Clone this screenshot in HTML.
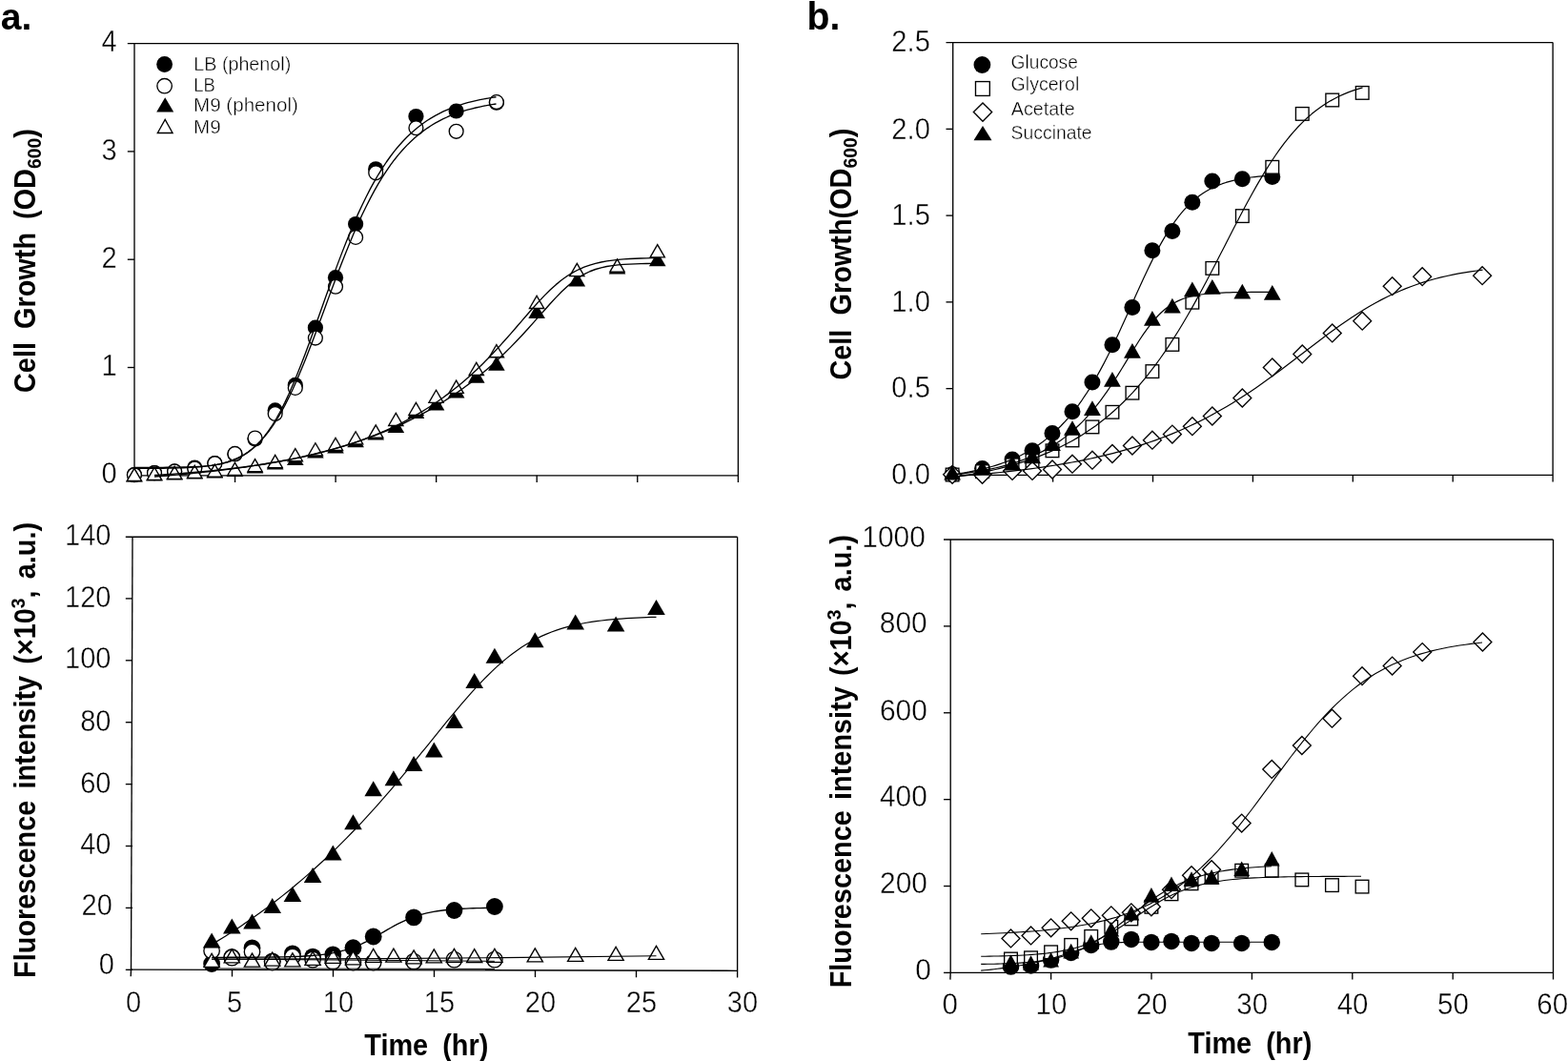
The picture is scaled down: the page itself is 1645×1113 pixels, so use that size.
<!DOCTYPE html>
<html lang="en">
<head>
<meta charset="utf-8">
<title>Cell growth and fluorescence intensity</title>
<style>
html,body{margin:0;padding:0;background:#fff;}
body{width:1645px;height:1113px;overflow:hidden;}
svg{display:block;}
text{font-family:"Liberation Sans", sans-serif;fill:#000;}
</style>
</head>
<body>
<svg width="1645" height="1113" viewBox="0 0 1645 1113">
<rect width="1645" height="1113" fill="#fff"/>
<line x1="141" y1="45.6" x2="141" y2="498.8" stroke="#000" stroke-width="1.35"/>
<line x1="774.4" y1="45.6" x2="774.4" y2="506" stroke="#000" stroke-width="1.35"/>
<line x1="133.8" y1="45.6" x2="774.4" y2="45.6" stroke="#000" stroke-width="1.35"/>
<line x1="141" y1="498.8" x2="774.4" y2="498.8" stroke="#000" stroke-width="1.35"/>
<line x1="141" y1="498.8" x2="140.7" y2="506" stroke="#000" stroke-width="1.35"/>
<line x1="246.55" y1="498.8" x2="246.55" y2="506" stroke="#000" stroke-width="1.35"/>
<line x1="352.1" y1="498.8" x2="352.1" y2="506" stroke="#000" stroke-width="1.35"/>
<line x1="457.65" y1="498.8" x2="457.65" y2="506" stroke="#000" stroke-width="1.35"/>
<line x1="563.2" y1="498.8" x2="563.2" y2="506" stroke="#000" stroke-width="1.35"/>
<line x1="668.75" y1="498.8" x2="668.75" y2="506" stroke="#000" stroke-width="1.35"/>
<line x1="133.8" y1="498.8" x2="141" y2="498.8" stroke="#000" stroke-width="1.35"/>
<line x1="133.8" y1="385.5" x2="141" y2="385.5" stroke="#000" stroke-width="1.35"/>
<line x1="133.8" y1="272.2" x2="141" y2="272.2" stroke="#000" stroke-width="1.35"/>
<line x1="133.8" y1="158.9" x2="141" y2="158.9" stroke="#000" stroke-width="1.35"/>
<text transform="translate(122.61 507.16) scale(0.945 1)" font-size="30.7" text-anchor="end" stroke="#fff" stroke-width="0.4">0</text>
<text transform="translate(122.61 393.98) scale(0.945 1)" font-size="30.7" text-anchor="end" stroke="#fff" stroke-width="0.4">1</text>
<text transform="translate(122.61 280.8) scale(0.945 1)" font-size="30.7" text-anchor="end" stroke="#fff" stroke-width="0.4">2</text>
<text transform="translate(122.61 167.62) scale(0.945 1)" font-size="30.7" text-anchor="end" stroke="#fff" stroke-width="0.4">3</text>
<text transform="translate(122.61 54.44) scale(0.945 1)" font-size="30.7" text-anchor="end" stroke="#fff" stroke-width="0.4">4</text>
<circle cx="140.9" cy="498" r="8.1" fill="#000"/>
<circle cx="162.01" cy="496" r="8.1" fill="#000"/>
<circle cx="183.12" cy="494.4" r="8.1" fill="#000"/>
<circle cx="204.23" cy="490.5" r="8.1" fill="#000"/>
<circle cx="225.34" cy="486" r="8.1" fill="#000"/>
<circle cx="246.45" cy="476.5" r="8.1" fill="#000"/>
<circle cx="267.56" cy="460.5" r="8.1" fill="#000"/>
<circle cx="288.67" cy="430.4" r="8.1" fill="#000"/>
<circle cx="309.78" cy="403.9" r="8.1" fill="#000"/>
<circle cx="330.89" cy="343.7" r="8.1" fill="#000"/>
<circle cx="352" cy="291.2" r="8.1" fill="#000"/>
<circle cx="373.11" cy="235.1" r="8.1" fill="#000"/>
<circle cx="394.22" cy="177.3" r="8.1" fill="#000"/>
<circle cx="436.44" cy="122.1" r="8.1" fill="#000"/>
<circle cx="478.66" cy="116.5" r="8.1" fill="#000"/>
<circle cx="520.88" cy="107.7" r="8.1" fill="#000"/>
<circle cx="140.9" cy="498.2" r="7.42" fill="#fff" stroke="#000" stroke-width="1.35"/>
<circle cx="162.01" cy="496.2" r="7.42" fill="#fff" stroke="#000" stroke-width="1.35"/>
<circle cx="183.12" cy="494.6" r="7.42" fill="#fff" stroke="#000" stroke-width="1.35"/>
<circle cx="204.23" cy="491.6" r="7.42" fill="#fff" stroke="#000" stroke-width="1.35"/>
<circle cx="225.34" cy="486.2" r="7.42" fill="#fff" stroke="#000" stroke-width="1.35"/>
<circle cx="246.45" cy="475.9" r="7.42" fill="#fff" stroke="#000" stroke-width="1.35"/>
<circle cx="267.56" cy="459.5" r="7.42" fill="#fff" stroke="#000" stroke-width="1.35"/>
<circle cx="288.67" cy="434" r="7.42" fill="#fff" stroke="#000" stroke-width="1.35"/>
<circle cx="309.78" cy="406.9" r="7.42" fill="#fff" stroke="#000" stroke-width="1.35"/>
<circle cx="330.89" cy="354.6" r="7.42" fill="#fff" stroke="#000" stroke-width="1.35"/>
<circle cx="352" cy="300.7" r="7.42" fill="#fff" stroke="#000" stroke-width="1.35"/>
<circle cx="373.11" cy="248.9" r="7.42" fill="#fff" stroke="#000" stroke-width="1.35"/>
<circle cx="394.22" cy="181.3" r="7.42" fill="#fff" stroke="#000" stroke-width="1.35"/>
<circle cx="436.44" cy="134.2" r="7.42" fill="#fff" stroke="#000" stroke-width="1.35"/>
<circle cx="478.66" cy="137.8" r="7.42" fill="#fff" stroke="#000" stroke-width="1.35"/>
<circle cx="520.88" cy="107.1" r="7.42" fill="#fff" stroke="#000" stroke-width="1.35"/>
<polygon points="140.9,490.4 132.1,505.6 149.7,505.6" fill="#000"/>
<polygon points="162.01,489.4 153.21,504.6 170.81,504.6" fill="#000"/>
<polygon points="183.12,488.4 174.32,503.6 191.92,503.6" fill="#000"/>
<polygon points="204.23,487.4 195.43,502.6 213.03,502.6" fill="#000"/>
<polygon points="225.34,486.4 216.54,501.6 234.14,501.6" fill="#000"/>
<polygon points="246.45,484.9 237.65,500.1 255.25,500.1" fill="#000"/>
<polygon points="267.56,481.4 258.76,496.6 276.36,496.6" fill="#000"/>
<polygon points="288.67,477.4 279.87,492.6 297.47,492.6" fill="#000"/>
<polygon points="309.78,472.9 300.98,488.1 318.58,488.1" fill="#000"/>
<polygon points="330.89,465.4 322.09,480.6 339.69,480.6" fill="#000"/>
<polygon points="352,460.4 343.2,475.6 360.8,475.6" fill="#000"/>
<polygon points="373.11,454.1 364.31,469.3 381.91,469.3" fill="#000"/>
<polygon points="394.22,446.4 385.42,461.6 403.02,461.6" fill="#000"/>
<polygon points="415.33,438.8 406.53,454 424.13,454" fill="#000"/>
<polygon points="436.44,423.8 427.64,439 445.24,439" fill="#000"/>
<polygon points="457.55,415.2 448.75,430.4 466.35,430.4" fill="#000"/>
<polygon points="478.66,402.2 469.86,417.4 487.46,417.4" fill="#000"/>
<polygon points="499.77,386.5 490.97,401.7 508.57,401.7" fill="#000"/>
<polygon points="520.88,373.5 512.08,388.7 529.68,388.7" fill="#000"/>
<polygon points="563.1,318.7 554.3,333.9 571.9,333.9" fill="#000"/>
<polygon points="605.32,285.2 596.52,300.4 614.12,300.4" fill="#000"/>
<polygon points="647.54,272.2 638.74,287.4 656.34,287.4" fill="#000"/>
<polygon points="689.76,264.1 680.96,279.3 698.56,279.3" fill="#000"/>
<polygon points="140.9,490 132.1,505.2 149.7,505.2" fill="#000"/>
<polygon points="140.9,492.69 134.44,503.85 147.36,503.85" fill="#fff"/>
<polygon points="162.01,488.9 153.21,504.1 170.81,504.1" fill="#000"/>
<polygon points="162.01,491.59 155.55,502.75 168.47,502.75" fill="#fff"/>
<polygon points="183.12,487.9 174.32,503.1 191.92,503.1" fill="#000"/>
<polygon points="183.12,490.59 176.66,501.75 189.58,501.75" fill="#fff"/>
<polygon points="204.23,486.9 195.43,502.1 213.03,502.1" fill="#000"/>
<polygon points="204.23,489.59 197.77,500.75 210.69,500.75" fill="#fff"/>
<polygon points="225.34,485.7 216.54,500.9 234.14,500.9" fill="#000"/>
<polygon points="225.34,488.39 218.88,499.55 231.8,499.55" fill="#fff"/>
<polygon points="246.45,484 237.65,499.2 255.25,499.2" fill="#000"/>
<polygon points="246.45,486.69 239.99,497.85 252.91,497.85" fill="#fff"/>
<polygon points="267.56,480.2 258.76,495.4 276.36,495.4" fill="#000"/>
<polygon points="267.56,482.89 261.1,494.05 274.02,494.05" fill="#fff"/>
<polygon points="288.67,476.1 279.87,491.3 297.47,491.3" fill="#000"/>
<polygon points="288.67,478.79 282.21,489.95 295.13,489.95" fill="#fff"/>
<polygon points="309.78,469.2 300.98,484.4 318.58,484.4" fill="#000"/>
<polygon points="309.78,471.89 303.32,483.05 316.24,483.05" fill="#fff"/>
<polygon points="330.89,463.4 322.09,478.6 339.69,478.6" fill="#000"/>
<polygon points="330.89,466.09 324.43,477.25 337.35,477.25" fill="#fff"/>
<polygon points="352,458 343.2,473.2 360.8,473.2" fill="#000"/>
<polygon points="352,460.69 345.54,471.85 358.46,471.85" fill="#fff"/>
<polygon points="373.11,451.4 364.31,466.6 381.91,466.6" fill="#000"/>
<polygon points="373.11,454.09 366.65,465.25 379.57,465.25" fill="#fff"/>
<polygon points="394.22,444.6 385.42,459.8 403.02,459.8" fill="#000"/>
<polygon points="394.22,447.29 387.76,458.45 400.68,458.45" fill="#fff"/>
<polygon points="415.33,432 406.53,447.2 424.13,447.2" fill="#000"/>
<polygon points="415.33,434.69 408.87,445.85 421.79,445.85" fill="#fff"/>
<polygon points="436.44,421 427.64,436.2 445.24,436.2" fill="#000"/>
<polygon points="436.44,423.69 429.98,434.85 442.9,434.85" fill="#fff"/>
<polygon points="457.55,407.9 448.75,423.1 466.35,423.1" fill="#000"/>
<polygon points="457.55,410.59 451.09,421.75 464.01,421.75" fill="#fff"/>
<polygon points="478.66,397.8 469.86,413 487.46,413" fill="#000"/>
<polygon points="478.66,400.49 472.2,411.65 485.12,411.65" fill="#fff"/>
<polygon points="499.77,379 490.97,394.2 508.57,394.2" fill="#000"/>
<polygon points="499.77,381.69 493.31,392.85 506.23,392.85" fill="#fff"/>
<polygon points="520.88,360.2 512.08,375.4 529.68,375.4" fill="#000"/>
<polygon points="520.88,362.89 514.42,374.05 527.34,374.05" fill="#fff"/>
<polygon points="563.1,309 554.3,324.2 571.9,324.2" fill="#000"/>
<polygon points="563.1,311.69 556.64,322.85 569.56,322.85" fill="#fff"/>
<polygon points="605.32,275.1 596.52,290.3 614.12,290.3" fill="#000"/>
<polygon points="605.32,277.79 598.86,288.95 611.78,288.95" fill="#fff"/>
<polygon points="647.54,270.6 638.74,285.8 656.34,285.8" fill="#000"/>
<polygon points="647.54,273.29 641.08,284.45 654,284.45" fill="#fff"/>
<polygon points="689.76,255.3 680.96,270.5 698.56,270.5" fill="#000"/>
<polygon points="689.76,257.99 683.3,269.15 696.22,269.15" fill="#fff"/>
<path d="M141,490.4 L145.26,490.39 L149.53,490.39 L153.79,490.38 L158.06,490.37 L162.32,490.36 L166.58,490.34 L170.85,490.32 L175.11,490.29 L179.38,490.25 L183.64,490.2 L187.9,490.13 L192.17,490.04 L196.43,489.93 L200.7,489.78 L204.96,489.6 L209.22,489.36 L213.49,489.05 L217.75,488.67 L222.02,488.18 L226.28,487.58 L230.54,486.82 L234.81,485.89 L239.07,484.75 L243.34,483.35 L247.6,481.67 L251.87,479.64 L256.13,477.23 L260.39,474.39 L264.66,471.06 L268.92,467.19 L273.19,462.75 L277.45,457.69 L281.71,451.98 L285.98,445.6 L290.24,438.52 L294.51,430.77 L298.77,422.34 L303.03,413.26 L307.3,403.57 L311.56,393.33 L315.83,382.6 L320.09,371.45 L324.35,359.96 L328.62,348.22 L332.88,336.3 L337.15,324.3 L341.41,312.31 L345.67,300.4 L349.94,288.64 L354.2,277.11 L358.47,265.87 L362.73,254.96 L366.99,244.43 L371.26,234.32 L375.52,224.64 L379.79,215.42 L384.05,206.68 L388.31,198.4 L392.58,190.61 L396.84,183.28 L401.11,176.41 L405.37,170 L409.63,164.01 L413.9,158.44 L418.16,153.27 L422.43,148.48 L426.69,144.04 L430.96,139.95 L435.22,136.17 L439.48,132.68 L443.75,129.48 L448.01,126.53 L452.28,123.82 L456.54,121.34 L460.8,119.06 L465.07,116.98 L469.33,115.07 L473.6,113.32 L477.86,111.72 L482.12,110.27 L486.39,108.93 L490.65,107.71 L494.92,106.6 L499.18,105.59 L503.44,104.67 L507.71,103.82 L511.97,103.05 L516.24,102.35 L520.5,101.72" fill="none" stroke="#000" stroke-width="1.35" stroke-linejoin="round"/>
<path d="M141,491.42 L145.26,491.41 L149.53,491.4 L153.79,491.38 L158.06,491.36 L162.32,491.33 L166.58,491.29 L170.85,491.24 L175.11,491.18 L179.38,491.11 L183.64,491.02 L187.9,490.91 L192.17,490.77 L196.43,490.59 L200.7,490.38 L204.96,490.11 L209.22,489.79 L213.49,489.39 L217.75,488.9 L222.02,488.31 L226.28,487.6 L230.54,486.73 L234.81,485.7 L239.07,484.46 L243.34,482.98 L247.6,481.24 L251.87,479.18 L256.13,476.78 L260.39,473.99 L264.66,470.77 L268.92,467.08 L273.19,462.88 L277.45,458.13 L281.71,452.8 L285.98,446.86 L290.24,440.31 L294.51,433.13 L298.77,425.33 L303.03,416.92 L307.3,407.93 L311.56,398.39 L315.83,388.36 L320.09,377.88 L324.35,367.04 L328.62,355.89 L332.88,344.53 L337.15,333.02 L341.41,321.44 L345.67,309.88 L349.94,298.41 L354.2,287.1 L358.47,276.01 L362.73,265.2 L366.99,254.71 L371.26,244.59 L375.52,234.88 L379.79,225.59 L384.05,216.74 L388.31,208.34 L392.58,200.41 L396.84,192.93 L401.11,185.91 L405.37,179.33 L409.63,173.19 L413.9,167.47 L418.16,162.15 L422.43,157.21 L426.69,152.64 L430.96,148.41 L435.22,144.51 L439.48,140.91 L443.75,137.6 L448.01,134.56 L452.28,131.77 L456.54,129.2 L460.8,126.86 L465.07,124.7 L469.33,122.74 L473.6,120.94 L477.86,119.29 L482.12,117.79 L486.39,116.42 L490.65,115.17 L494.92,114.04 L499.18,113 L503.44,112.05 L507.71,111.19 L511.97,110.4 L516.24,109.69 L520.5,109.04" fill="none" stroke="#000" stroke-width="1.35" stroke-linejoin="round"/>
<path d="M162,498.54 L167.93,498.16 L173.87,497.77 L179.8,497.36 L185.73,496.93 L191.66,496.48 L197.6,496.01 L203.53,495.51 L209.46,494.99 L215.39,494.44 L221.33,493.86 L227.26,493.26 L233.19,492.63 L239.12,491.96 L245.06,491.26 L250.99,490.53 L256.92,489.76 L262.85,488.95 L268.79,488.1 L274.72,487.21 L280.65,486.28 L286.58,485.29 L292.52,484.26 L298.45,483.18 L304.38,482.05 L310.31,480.86 L316.25,479.61 L322.18,478.29 L328.11,476.92 L334.04,475.47 L339.98,473.95 L345.91,472.36 L351.84,470.68 L357.78,468.93 L363.71,467.08 L369.64,465.15 L375.57,463.12 L381.51,460.98 L387.44,458.74 L393.37,456.4 L399.3,453.93 L405.24,451.34 L411.17,448.62 L417.1,445.77 L423.03,442.78 L428.97,439.64 L434.9,436.34 L440.83,432.88 L446.76,429.25 L452.7,425.45 L458.63,421.45 L464.56,417.27 L470.49,412.88 L476.43,408.28 L482.36,403.47 L488.29,398.43 L494.22,393.16 L500.16,387.66 L506.09,381.93 L512.02,375.97 L517.96,369.79 L523.89,363.4 L529.82,356.82 L535.75,350.08 L541.69,343.24 L547.62,336.35 L553.55,329.47 L559.48,322.7 L565.42,316.14 L571.35,309.87 L577.28,304.01 L583.21,298.63 L589.15,293.79 L595.08,289.54 L601.01,285.87 L606.94,282.77 L612.88,280.2 L618.81,278.09 L624.74,276.38 L630.67,275.02 L636.61,273.94 L642.54,273.1 L648.47,272.44 L654.4,271.92 L660.34,271.52 L666.27,271.22 L672.2,270.98 L678.13,270.8 L684.07,270.66 L690,270.55" fill="none" stroke="#000" stroke-width="1.35" stroke-linejoin="round"/>
<path d="M162,499.98 L167.93,499.53 L173.87,499.06 L179.8,498.57 L185.73,498.06 L191.66,497.53 L197.6,496.98 L203.53,496.4 L209.46,495.8 L215.39,495.18 L221.33,494.52 L227.26,493.84 L233.19,493.13 L239.12,492.39 L245.06,491.62 L250.99,490.81 L256.92,489.97 L262.85,489.09 L268.79,488.18 L274.72,487.23 L280.65,486.23 L286.58,485.2 L292.52,484.12 L298.45,482.99 L304.38,481.81 L310.31,480.59 L316.25,479.31 L322.18,477.98 L328.11,476.59 L334.04,475.14 L339.98,473.63 L345.91,472.06 L351.84,470.41 L357.78,468.7 L363.71,466.92 L369.64,465.05 L375.57,463.11 L381.51,461.09 L387.44,458.98 L393.37,456.77 L399.3,454.48 L405.24,452.09 L411.17,449.59 L417.1,446.99 L423.03,444.27 L428.97,441.44 L434.9,438.49 L440.83,435.41 L446.76,432.2 L452.7,428.86 L458.63,425.37 L464.56,421.73 L470.49,417.94 L476.43,413.99 L482.36,409.86 L488.29,405.57 L494.22,401.09 L500.16,396.42 L506.09,391.56 L512.02,386.49 L517.96,381.22 L523.89,375.74 L529.82,370.05 L535.75,364.14 L541.69,358.02 L547.62,351.72 L553.55,345.24 L559.48,338.62 L565.42,331.91 L571.35,325.2 L577.28,318.57 L583.21,312.14 L589.15,306.07 L595.08,300.47 L601.01,295.49 L606.94,291.2 L612.88,287.62 L618.81,284.75 L624.74,282.5 L630.67,280.79 L636.61,279.51 L642.54,278.57 L648.47,277.89 L654.4,277.4 L660.34,277.05 L666.27,276.8 L672.2,276.63 L678.13,276.5 L684.07,276.42 L690,276.36" fill="none" stroke="#000" stroke-width="1.35" stroke-linejoin="round"/>
<circle cx="172.6" cy="67.5" r="8.4" fill="#000"/>
<circle cx="172.6" cy="90.2" r="7.73" fill="#fff" stroke="#000" stroke-width="1.35"/>
<polygon points="173.2,102.2 164.2,117.4 182.2,117.4" fill="#000"/>
<polygon points="173.2,124 164.2,140.2 182.2,140.2" fill="#000"/>
<polygon points="173.2,126.78 166.49,138.85 179.91,138.85" fill="#fff"/>
<text transform="translate(203.3 73.5) scale(0.957 1)" font-size="20.6" stroke="#fff" stroke-width="0.4">LB (phenol)</text>
<text transform="translate(203.3 95.7) scale(0.9 1)" font-size="20.6" stroke="#fff" stroke-width="0.4">LB</text>
<text transform="translate(203 117.3)" font-size="20.6" stroke="#fff" stroke-width="0.4">M9 (phenol)</text>
<text transform="translate(203 139.9)" font-size="20.6" stroke="#fff" stroke-width="0.4">M9</text>
<text transform="translate(0.8 30.9) scale(1.02 1)" font-size="38.3" font-weight="bold">a.</text>
<text transform="translate(846.5 30.9) scale(0.957 1)" font-size="41" font-weight="bold">b.</text>
<text transform="translate(36.7 412) rotate(-90) scale(0.92 1)" font-size="31.4" font-weight="bold" word-spacing="6.52">Cell Growth (OD<tspan font-size="21" dy="6">600</tspan><tspan dy="-6">)</tspan></text>
<text transform="translate(36.7 1025.9) rotate(-90) scale(0.92 1)" font-size="31.4" font-weight="bold" word-spacing="4.46">Fluorescence intensity (×10<tspan font-size="21" dy="-11">3</tspan><tspan dy="11">, a.u.)</tspan></text>
<text transform="translate(447.3 1106.9) scale(0.92 1)" font-size="31.4" text-anchor="middle" font-weight="bold" word-spacing="7.61">Time (hr)</text>
<line x1="139" y1="563.2" x2="137.5" y2="1017.1" stroke="#000" stroke-width="1.35"/>
<line x1="773.6" y1="563.2" x2="773.6" y2="1025.5" stroke="#000" stroke-width="1.35"/>
<line x1="131.8" y1="563.2" x2="773.6" y2="563.2" stroke="#000" stroke-width="1.35"/>
<line x1="137.5" y1="1017.1" x2="773.6" y2="1018.3" stroke="#000" stroke-width="1.35"/>
<line x1="137.5" y1="1017.1" x2="137.2" y2="1024.3" stroke="#000" stroke-width="1.35"/>
<line x1="243.5" y1="1017.3" x2="243.5" y2="1024.5" stroke="#000" stroke-width="1.35"/>
<line x1="349.5" y1="1017.5" x2="349.5" y2="1024.7" stroke="#000" stroke-width="1.35"/>
<line x1="455.5" y1="1017.7" x2="455.5" y2="1024.9" stroke="#000" stroke-width="1.35"/>
<line x1="561.5" y1="1017.9" x2="561.5" y2="1025.1" stroke="#000" stroke-width="1.35"/>
<line x1="667.5" y1="1018.1" x2="667.5" y2="1025.3" stroke="#000" stroke-width="1.35"/>
<line x1="131.8" y1="1017.3" x2="139" y2="1017.3" stroke="#000" stroke-width="1.35"/>
<line x1="131.8" y1="952.4" x2="139" y2="952.4" stroke="#000" stroke-width="1.35"/>
<line x1="131.8" y1="887.5" x2="139" y2="887.5" stroke="#000" stroke-width="1.35"/>
<line x1="131.8" y1="822.6" x2="139" y2="822.6" stroke="#000" stroke-width="1.35"/>
<line x1="131.8" y1="757.7" x2="139" y2="757.7" stroke="#000" stroke-width="1.35"/>
<line x1="131.8" y1="692.8" x2="139" y2="692.8" stroke="#000" stroke-width="1.35"/>
<line x1="131.8" y1="627.9" x2="139" y2="627.9" stroke="#000" stroke-width="1.35"/>
<text transform="translate(119.81 1022.46) scale(0.945 1)" font-size="30.7" text-anchor="end" stroke="#fff" stroke-width="0.4">0</text>
<text transform="translate(117.81 960.26) scale(0.945 1)" font-size="30.7" text-anchor="end" stroke="#fff" stroke-width="0.4">20</text>
<text transform="translate(116.41 896.06) scale(0.945 1)" font-size="30.7" text-anchor="end" stroke="#fff" stroke-width="0.4">40</text>
<text transform="translate(116.41 831.56) scale(0.945 1)" font-size="30.7" text-anchor="end" stroke="#fff" stroke-width="0.4">60</text>
<text transform="translate(116.41 766.56) scale(0.945 1)" font-size="30.7" text-anchor="end" stroke="#fff" stroke-width="0.4">80</text>
<text transform="translate(116.41 701.26) scale(0.945 1)" font-size="30.7" text-anchor="end" stroke="#fff" stroke-width="0.4">100</text>
<text transform="translate(116.41 636.56) scale(0.945 1)" font-size="30.7" text-anchor="end" stroke="#fff" stroke-width="0.4">120</text>
<text transform="translate(116.41 572.36) scale(0.945 1)" font-size="30.7" text-anchor="end" stroke="#fff" stroke-width="0.4">140</text>
<text transform="translate(140.1 1061.8) scale(0.945 1)" font-size="30.7" text-anchor="middle" stroke="#fff" stroke-width="0.4">0</text>
<text transform="translate(246.1 1061.8) scale(0.945 1)" font-size="30.7" text-anchor="middle" stroke="#fff" stroke-width="0.4">5</text>
<text transform="translate(355 1061.8) scale(0.945 1)" font-size="30.7" text-anchor="middle" stroke="#fff" stroke-width="0.4">10</text>
<text transform="translate(461 1061.8) scale(0.945 1)" font-size="30.7" text-anchor="middle" stroke="#fff" stroke-width="0.4">15</text>
<text transform="translate(567 1061.8) scale(0.945 1)" font-size="30.7" text-anchor="middle" stroke="#fff" stroke-width="0.4">20</text>
<text transform="translate(673 1061.8) scale(0.945 1)" font-size="30.7" text-anchor="middle" stroke="#fff" stroke-width="0.4">25</text>
<text transform="translate(779 1061.8) scale(0.945 1)" font-size="30.7" text-anchor="middle" stroke="#fff" stroke-width="0.4">30</text>
<circle cx="222.1" cy="1011" r="8.9" fill="#000"/>
<circle cx="243.3" cy="1004" r="8.9" fill="#000"/>
<circle cx="264.5" cy="994.4" r="8.9" fill="#000"/>
<circle cx="285.7" cy="1008.3" r="8.9" fill="#000"/>
<circle cx="306.9" cy="1000.4" r="8.9" fill="#000"/>
<circle cx="328.1" cy="1003.6" r="8.9" fill="#000"/>
<circle cx="349.3" cy="1001.4" r="8.9" fill="#000"/>
<circle cx="370.5" cy="994.2" r="8.9" fill="#000"/>
<circle cx="391.7" cy="982.5" r="8.9" fill="#000"/>
<circle cx="434.1" cy="962.4" r="8.9" fill="#000"/>
<circle cx="476.5" cy="955" r="8.9" fill="#000"/>
<circle cx="518.9" cy="951" r="8.9" fill="#000"/>
<circle cx="222.1" cy="997.5" r="8.22" fill="#fff" stroke="#000" stroke-width="1.35"/>
<circle cx="243.3" cy="1004.6" r="8.22" fill="#fff" stroke="#000" stroke-width="1.35"/>
<circle cx="264.5" cy="998.5" r="8.22" fill="#fff" stroke="#000" stroke-width="1.35"/>
<circle cx="285.7" cy="1009.6" r="8.22" fill="#fff" stroke="#000" stroke-width="1.35"/>
<circle cx="306.9" cy="1003.5" r="8.22" fill="#fff" stroke="#000" stroke-width="1.35"/>
<circle cx="328.1" cy="1006.6" r="8.22" fill="#fff" stroke="#000" stroke-width="1.35"/>
<circle cx="349.3" cy="1008.6" r="8.22" fill="#fff" stroke="#000" stroke-width="1.35"/>
<circle cx="370.5" cy="1009.6" r="8.22" fill="#fff" stroke="#000" stroke-width="1.35"/>
<circle cx="391.7" cy="1009.6" r="8.22" fill="#fff" stroke="#000" stroke-width="1.35"/>
<circle cx="434.1" cy="1008.6" r="8.22" fill="#fff" stroke="#000" stroke-width="1.35"/>
<circle cx="476.5" cy="1006.6" r="8.22" fill="#fff" stroke="#000" stroke-width="1.35"/>
<circle cx="518.9" cy="1006.6" r="8.22" fill="#fff" stroke="#000" stroke-width="1.35"/>
<polygon points="222.1,978.6 212.8,994.6 231.4,994.6" fill="#000"/>
<polygon points="243.3,963.4 234,979.4 252.6,979.4" fill="#000"/>
<polygon points="264.5,958.6 255.2,974.6 273.8,974.6" fill="#000"/>
<polygon points="285.7,942 276.4,958 295,958" fill="#000"/>
<polygon points="306.9,930 297.6,946 316.2,946" fill="#000"/>
<polygon points="328.1,910.1 318.8,926.1 337.4,926.1" fill="#000"/>
<polygon points="349.3,886.5 340,902.5 358.6,902.5" fill="#000"/>
<polygon points="370.5,854.2 361.2,870.2 379.8,870.2" fill="#000"/>
<polygon points="391.7,819.3 382.4,835.3 401,835.3" fill="#000"/>
<polygon points="412.9,808.2 403.6,824.2 422.2,824.2" fill="#000"/>
<polygon points="434.1,793.1 424.8,809.1 443.4,809.1" fill="#000"/>
<polygon points="455.3,778.5 446,794.5 464.6,794.5" fill="#000"/>
<polygon points="476.5,748 467.2,764 485.8,764" fill="#000"/>
<polygon points="497.7,706.1 488.4,722.1 507,722.1" fill="#000"/>
<polygon points="518.9,679.8 509.6,695.8 528.2,695.8" fill="#000"/>
<polygon points="561.3,663.2 552,679.2 570.6,679.2" fill="#000"/>
<polygon points="603.7,644.6 594.4,660.6 613,660.6" fill="#000"/>
<polygon points="646.1,646.6 636.8,662.6 655.4,662.6" fill="#000"/>
<polygon points="688.5,629.1 679.2,645.1 697.8,645.1" fill="#000"/>
<polygon points="222.1,999 212.8,1015 231.4,1015" fill="#000"/>
<polygon points="222.1,1001.69 215.15,1013.65 229.05,1013.65" fill="#fff"/>
<polygon points="243.3,994.5 234,1010.5 252.6,1010.5" fill="#000"/>
<polygon points="243.3,997.19 236.35,1009.15 250.25,1009.15" fill="#fff"/>
<polygon points="264.5,998.8 255.2,1014.8 273.8,1014.8" fill="#000"/>
<polygon points="264.5,1001.49 257.55,1013.45 271.45,1013.45" fill="#fff"/>
<polygon points="285.7,997.8 276.4,1013.8 295,1013.8" fill="#000"/>
<polygon points="285.7,1000.49 278.75,1012.45 292.65,1012.45" fill="#fff"/>
<polygon points="306.9,998.5 297.6,1014.5 316.2,1014.5" fill="#000"/>
<polygon points="306.9,1001.19 299.95,1013.15 313.85,1013.15" fill="#fff"/>
<polygon points="328.1,997 318.8,1013 337.4,1013" fill="#000"/>
<polygon points="328.1,999.69 321.15,1011.65 335.05,1011.65" fill="#fff"/>
<polygon points="349.3,995 340,1011 358.6,1011" fill="#000"/>
<polygon points="349.3,997.69 342.35,1009.65 356.25,1009.65" fill="#fff"/>
<polygon points="370.5,996.5 361.2,1012.5 379.8,1012.5" fill="#000"/>
<polygon points="370.5,999.19 363.55,1011.15 377.45,1011.15" fill="#fff"/>
<polygon points="391.7,994 382.4,1010 401,1010" fill="#000"/>
<polygon points="391.7,996.69 384.75,1008.65 398.65,1008.65" fill="#fff"/>
<polygon points="412.9,993.8 403.6,1009.8 422.2,1009.8" fill="#000"/>
<polygon points="412.9,996.49 405.95,1008.45 419.85,1008.45" fill="#fff"/>
<polygon points="434.1,995.5 424.8,1011.5 443.4,1011.5" fill="#000"/>
<polygon points="434.1,998.19 427.15,1010.15 441.05,1010.15" fill="#fff"/>
<polygon points="455.3,994.6 446,1010.6 464.6,1010.6" fill="#000"/>
<polygon points="455.3,997.29 448.35,1009.25 462.25,1009.25" fill="#fff"/>
<polygon points="476.5,994 467.2,1010 485.8,1010" fill="#000"/>
<polygon points="476.5,996.69 469.55,1008.65 483.45,1008.65" fill="#fff"/>
<polygon points="497.7,994.3 488.4,1010.3 507,1010.3" fill="#000"/>
<polygon points="497.7,996.99 490.75,1008.95 504.65,1008.95" fill="#fff"/>
<polygon points="518.9,994 509.6,1010 528.2,1010" fill="#000"/>
<polygon points="518.9,996.69 511.95,1008.65 525.85,1008.65" fill="#fff"/>
<polygon points="561.3,993.5 552,1009.5 570.6,1009.5" fill="#000"/>
<polygon points="561.3,996.19 554.35,1008.15 568.25,1008.15" fill="#fff"/>
<polygon points="603.7,993 594.4,1009 613,1009" fill="#000"/>
<polygon points="603.7,995.69 596.75,1007.65 610.65,1007.65" fill="#fff"/>
<polygon points="646.1,992 636.8,1008 655.4,1008" fill="#000"/>
<polygon points="646.1,994.69 639.15,1006.65 653.05,1006.65" fill="#fff"/>
<polygon points="688.5,991 679.2,1007 697.8,1007" fill="#000"/>
<polygon points="688.5,993.69 681.55,1005.65 695.45,1005.65" fill="#fff"/>
<path d="M222.5,990.53 L227.74,987.38 L232.97,984.17 L238.21,980.89 L243.44,977.55 L248.68,974.13 L253.92,970.65 L259.15,967.09 L264.39,963.47 L269.62,959.77 L274.86,955.99 L280.1,952.13 L285.33,948.2 L290.57,944.19 L295.8,940.1 L301.04,935.92 L306.28,931.66 L311.51,927.32 L316.75,922.89 L321.98,918.37 L327.22,913.76 L332.46,909.06 L337.69,904.27 L342.93,899.38 L348.16,894.4 L353.4,889.33 L358.63,884.16 L363.87,878.9 L369.11,873.54 L374.34,868.09 L379.58,862.54 L384.81,856.9 L390.05,851.16 L395.29,845.34 L400.52,839.42 L405.76,833.42 L410.99,827.34 L416.23,821.18 L421.47,814.95 L426.7,808.66 L431.94,802.31 L437.17,795.91 L442.41,789.47 L447.65,783.01 L452.88,776.53 L458.12,770.06 L463.35,763.61 L468.59,757.2 L473.83,750.84 L479.06,744.56 L484.3,738.38 L489.53,732.32 L494.77,726.4 L500.01,720.65 L505.24,715.08 L510.48,709.71 L515.71,704.57 L520.95,699.67 L526.19,695.02 L531.42,690.63 L536.66,686.51 L541.89,682.66 L547.13,679.09 L552.37,675.78 L557.6,672.74 L562.84,669.95 L568.07,667.4 L573.31,665.09 L578.54,662.99 L583.78,661.1 L589.02,659.4 L594.25,657.88 L599.49,656.52 L604.72,655.31 L609.96,654.22 L615.2,653.26 L620.43,652.41 L625.67,651.66 L630.9,650.99 L636.14,650.41 L641.38,649.89 L646.61,649.43 L651.85,649.03 L657.08,648.68 L662.32,648.37 L667.56,648.1 L672.79,647.86 L678.03,647.65 L683.26,647.46 L688.5,647.3" fill="none" stroke="#000" stroke-width="1.2" stroke-linejoin="round"/>
<path d="M222.1,1004.31 L225.86,1004.31 L229.61,1004.31 L233.37,1004.3 L237.13,1004.3 L240.88,1004.29 L244.64,1004.28 L248.4,1004.28 L252.16,1004.27 L255.91,1004.25 L259.67,1004.24 L263.43,1004.22 L267.18,1004.2 L270.94,1004.18 L274.7,1004.15 L278.45,1004.12 L282.21,1004.08 L285.97,1004.03 L289.73,1003.98 L293.48,1003.92 L297.24,1003.84 L301,1003.75 L304.75,1003.65 L308.51,1003.53 L312.27,1003.38 L316.02,1003.21 L319.78,1003.01 L323.54,1002.78 L327.29,1002.5 L331.05,1002.18 L334.81,1001.81 L338.57,1001.37 L342.32,1000.87 L346.08,1000.28 L349.84,999.6 L353.59,998.83 L357.35,997.95 L361.11,996.94 L364.86,995.81 L368.62,994.54 L372.38,993.13 L376.14,991.58 L379.89,989.89 L383.65,988.06 L387.41,986.12 L391.16,984.08 L394.92,981.96 L398.68,979.78 L402.43,977.59 L406.19,975.4 L409.95,973.25 L413.71,971.17 L417.46,969.18 L421.22,967.3 L424.98,965.55 L428.73,963.93 L432.49,962.46 L436.25,961.12 L440,959.93 L443.76,958.87 L447.52,957.93 L451.27,957.11 L455.03,956.39 L458.79,955.77 L462.55,955.23 L466.3,954.76 L470.06,954.36 L473.82,954.01 L477.57,953.72 L481.33,953.47 L485.09,953.25 L488.84,953.07 L492.6,952.91 L496.36,952.78 L500.12,952.67 L503.87,952.57 L507.63,952.49 L511.39,952.42 L515.14,952.37 L518.9,952.32" fill="none" stroke="#000" stroke-width="1.35" stroke-linejoin="round"/>
<path d="M222.1,1006 L518.9,1008.3" fill="none" stroke="#000" stroke-width="1.0" stroke-linejoin="round"/>
<path d="M222.1,1006.3 L400,1005.6 L527,1004.6 L688.5,1002.7" fill="none" stroke="#000" stroke-width="1.1" stroke-linejoin="round"/>
<path d="M222.1,1016 L518.9,1016.4" fill="none" stroke="#000" stroke-width="1.0" stroke-linejoin="round"/>
<line x1="999.7" y1="44.6" x2="999.7" y2="498.4" stroke="#000" stroke-width="1.35"/>
<line x1="1629.1" y1="44.6" x2="1629.1" y2="505.6" stroke="#000" stroke-width="1.35"/>
<line x1="992.5" y1="44.6" x2="1629.1" y2="44.6" stroke="#000" stroke-width="1.35"/>
<line x1="999.7" y1="498.4" x2="1629.1" y2="498.4" stroke="#000" stroke-width="1.35"/>
<line x1="999.7" y1="498.4" x2="999.4" y2="505.6" stroke="#000" stroke-width="1.35"/>
<line x1="1104.6" y1="498.4" x2="1104.6" y2="505.6" stroke="#000" stroke-width="1.35"/>
<line x1="1209.5" y1="498.4" x2="1209.5" y2="505.6" stroke="#000" stroke-width="1.35"/>
<line x1="1314.4" y1="498.4" x2="1314.4" y2="505.6" stroke="#000" stroke-width="1.35"/>
<line x1="1419.3" y1="498.4" x2="1419.3" y2="505.6" stroke="#000" stroke-width="1.35"/>
<line x1="1524.2" y1="498.4" x2="1524.2" y2="505.6" stroke="#000" stroke-width="1.35"/>
<line x1="992.5" y1="498.4" x2="999.7" y2="498.4" stroke="#000" stroke-width="1.35"/>
<line x1="992.5" y1="407.64" x2="999.7" y2="407.64" stroke="#000" stroke-width="1.35"/>
<line x1="992.5" y1="316.88" x2="999.7" y2="316.88" stroke="#000" stroke-width="1.35"/>
<line x1="992.5" y1="226.12" x2="999.7" y2="226.12" stroke="#000" stroke-width="1.35"/>
<line x1="992.5" y1="135.36" x2="999.7" y2="135.36" stroke="#000" stroke-width="1.35"/>
<text transform="translate(975.91 508.06) scale(0.95 1)" font-size="30.7" text-anchor="end" stroke="#fff" stroke-width="0.4">0.0</text>
<text transform="translate(975.91 417.3) scale(0.95 1)" font-size="30.7" text-anchor="end" stroke="#fff" stroke-width="0.4">0.5</text>
<text transform="translate(975.91 326.54) scale(0.95 1)" font-size="30.7" text-anchor="end" stroke="#fff" stroke-width="0.4">1.0</text>
<text transform="translate(975.91 235.78) scale(0.95 1)" font-size="30.7" text-anchor="end" stroke="#fff" stroke-width="0.4">1.5</text>
<text transform="translate(975.91 145.62) scale(0.95 1)" font-size="30.7" text-anchor="end" stroke="#fff" stroke-width="0.4">2.0</text>
<text transform="translate(975.91 54.26) scale(0.95 1)" font-size="30.7" text-anchor="end" stroke="#fff" stroke-width="0.4">2.5</text>
<circle cx="999.1" cy="497.8" r="8.5" fill="#000"/>
<circle cx="1030.57" cy="491.6" r="8.5" fill="#000"/>
<circle cx="1062.04" cy="482" r="8.5" fill="#000"/>
<circle cx="1083.02" cy="472.8" r="8.5" fill="#000"/>
<circle cx="1104" cy="454.4" r="8.5" fill="#000"/>
<circle cx="1124.98" cy="431.7" r="8.5" fill="#000"/>
<circle cx="1145.96" cy="400.9" r="8.5" fill="#000"/>
<circle cx="1166.94" cy="361.7" r="8.5" fill="#000"/>
<circle cx="1187.92" cy="322.4" r="8.5" fill="#000"/>
<circle cx="1208.9" cy="262.7" r="8.5" fill="#000"/>
<circle cx="1229.88" cy="242.6" r="8.5" fill="#000"/>
<circle cx="1250.86" cy="212.3" r="8.5" fill="#000"/>
<circle cx="1271.84" cy="190" r="8.5" fill="#000"/>
<circle cx="1303.31" cy="187.8" r="8.5" fill="#000"/>
<circle cx="1334.78" cy="185.6" r="8.5" fill="#000"/>
<rect x="992.27" y="491.18" width="13.65" height="13.65" fill="#fff" stroke="#000" stroke-width="1.35"/>
<rect x="1023.74" y="487.78" width="13.65" height="13.65" fill="#fff" stroke="#000" stroke-width="1.35"/>
<rect x="1055.21" y="480.98" width="13.65" height="13.65" fill="#fff" stroke="#000" stroke-width="1.35"/>
<rect x="1076.19" y="476.57" width="13.65" height="13.65" fill="#fff" stroke="#000" stroke-width="1.35"/>
<rect x="1097.17" y="465.98" width="13.65" height="13.65" fill="#fff" stroke="#000" stroke-width="1.35"/>
<rect x="1118.15" y="455.07" width="13.65" height="13.65" fill="#fff" stroke="#000" stroke-width="1.35"/>
<rect x="1139.13" y="441.07" width="13.65" height="13.65" fill="#fff" stroke="#000" stroke-width="1.35"/>
<rect x="1160.12" y="425.48" width="13.65" height="13.65" fill="#fff" stroke="#000" stroke-width="1.35"/>
<rect x="1181.1" y="405.38" width="13.65" height="13.65" fill="#fff" stroke="#000" stroke-width="1.35"/>
<rect x="1202.08" y="382.78" width="13.65" height="13.65" fill="#fff" stroke="#000" stroke-width="1.35"/>
<rect x="1223.06" y="354.57" width="13.65" height="13.65" fill="#fff" stroke="#000" stroke-width="1.35"/>
<rect x="1244.04" y="310.38" width="13.65" height="13.65" fill="#fff" stroke="#000" stroke-width="1.35"/>
<rect x="1265.02" y="274.57" width="13.65" height="13.65" fill="#fff" stroke="#000" stroke-width="1.35"/>
<rect x="1296.48" y="219.78" width="13.65" height="13.65" fill="#fff" stroke="#000" stroke-width="1.35"/>
<rect x="1327.95" y="168.48" width="13.65" height="13.65" fill="#fff" stroke="#000" stroke-width="1.35"/>
<rect x="1359.42" y="112.58" width="13.65" height="13.65" fill="#fff" stroke="#000" stroke-width="1.35"/>
<rect x="1390.89" y="98.17" width="13.65" height="13.65" fill="#fff" stroke="#000" stroke-width="1.35"/>
<rect x="1422.37" y="90.58" width="13.65" height="13.65" fill="#fff" stroke="#000" stroke-width="1.35"/>
<polygon points="999.1,487.4 1009.5,497.8 999.1,508.2 988.7,497.8" fill="#000"/>
<polygon points="999.1,489.31 1007.59,497.8 999.1,506.29 990.61,497.8" fill="#fff"/>
<polygon points="1030.57,487.4 1040.97,497.8 1030.57,508.2 1020.17,497.8" fill="#000"/>
<polygon points="1030.57,489.31 1039.06,497.8 1030.57,506.29 1022.08,497.8" fill="#fff"/>
<polygon points="1062.04,483.5 1072.44,493.9 1062.04,504.3 1051.64,493.9" fill="#000"/>
<polygon points="1062.04,485.41 1070.53,493.9 1062.04,502.39 1053.55,493.9" fill="#fff"/>
<polygon points="1083.02,483.5 1093.42,493.9 1083.02,504.3 1072.62,493.9" fill="#000"/>
<polygon points="1083.02,485.41 1091.51,493.9 1083.02,502.39 1074.53,493.9" fill="#fff"/>
<polygon points="1104,482.1 1114.4,492.5 1104,502.9 1093.6,492.5" fill="#000"/>
<polygon points="1104,484.01 1112.49,492.5 1104,500.99 1095.51,492.5" fill="#fff"/>
<polygon points="1124.98,476.3 1135.38,486.7 1124.98,497.1 1114.58,486.7" fill="#000"/>
<polygon points="1124.98,478.21 1133.47,486.7 1124.98,495.19 1116.49,486.7" fill="#fff"/>
<polygon points="1145.96,472.3 1156.36,482.7 1145.96,493.1 1135.56,482.7" fill="#000"/>
<polygon points="1145.96,474.21 1154.45,482.7 1145.96,491.19 1137.47,482.7" fill="#fff"/>
<polygon points="1166.94,465.6 1177.34,476 1166.94,486.4 1156.54,476" fill="#000"/>
<polygon points="1166.94,467.51 1175.43,476 1166.94,484.49 1158.45,476" fill="#fff"/>
<polygon points="1187.92,457.1 1198.32,467.5 1187.92,477.9 1177.52,467.5" fill="#000"/>
<polygon points="1187.92,459.01 1196.41,467.5 1187.92,475.99 1179.43,467.5" fill="#fff"/>
<polygon points="1208.9,451.3 1219.3,461.7 1208.9,472.1 1198.5,461.7" fill="#000"/>
<polygon points="1208.9,453.21 1217.39,461.7 1208.9,470.19 1200.41,461.7" fill="#fff"/>
<polygon points="1229.88,445.2 1240.28,455.6 1229.88,466 1219.48,455.6" fill="#000"/>
<polygon points="1229.88,447.11 1238.37,455.6 1229.88,464.09 1221.39,455.6" fill="#fff"/>
<polygon points="1250.86,436.8 1261.26,447.2 1250.86,457.6 1240.46,447.2" fill="#000"/>
<polygon points="1250.86,438.71 1259.35,447.2 1250.86,455.69 1242.37,447.2" fill="#fff"/>
<polygon points="1271.84,426.1 1282.24,436.5 1271.84,446.9 1261.44,436.5" fill="#000"/>
<polygon points="1271.84,428.01 1280.33,436.5 1271.84,444.99 1263.35,436.5" fill="#fff"/>
<polygon points="1303.31,407.1 1313.71,417.5 1303.31,427.9 1292.91,417.5" fill="#000"/>
<polygon points="1303.31,409.01 1311.8,417.5 1303.31,425.99 1294.82,417.5" fill="#fff"/>
<polygon points="1334.78,375 1345.18,385.4 1334.78,395.8 1324.38,385.4" fill="#000"/>
<polygon points="1334.78,376.91 1343.27,385.4 1334.78,393.89 1326.29,385.4" fill="#fff"/>
<polygon points="1366.25,361 1376.65,371.4 1366.25,381.8 1355.85,371.4" fill="#000"/>
<polygon points="1366.25,362.91 1374.74,371.4 1366.25,379.89 1357.76,371.4" fill="#fff"/>
<polygon points="1397.72,339 1408.12,349.4 1397.72,359.8 1387.32,349.4" fill="#000"/>
<polygon points="1397.72,340.91 1406.21,349.4 1397.72,357.89 1389.23,349.4" fill="#fff"/>
<polygon points="1429.19,326.3 1439.59,336.7 1429.19,347.1 1418.79,336.7" fill="#000"/>
<polygon points="1429.19,328.21 1437.68,336.7 1429.19,345.19 1420.7,336.7" fill="#fff"/>
<polygon points="1460.66,289.8 1471.06,300.2 1460.66,310.6 1450.26,300.2" fill="#000"/>
<polygon points="1460.66,291.71 1469.15,300.2 1460.66,308.69 1452.17,300.2" fill="#fff"/>
<polygon points="1492.13,279.8 1502.53,290.2 1492.13,300.6 1481.73,290.2" fill="#000"/>
<polygon points="1492.13,281.71 1500.62,290.2 1492.13,298.69 1483.64,290.2" fill="#fff"/>
<polygon points="1555.07,278.8 1565.47,289.2 1555.07,299.6 1544.67,289.2" fill="#000"/>
<polygon points="1555.07,280.71 1563.56,289.2 1555.07,297.69 1546.58,289.2" fill="#fff"/>
<polygon points="999.1,487.75 990.2,503.45 1008,503.45" fill="#000"/>
<polygon points="1030.57,483.15 1021.67,498.85 1039.47,498.85" fill="#000"/>
<polygon points="1062.04,477.75 1053.14,493.45 1070.94,493.45" fill="#000"/>
<polygon points="1083.02,470.45 1074.12,486.15 1091.92,486.15" fill="#000"/>
<polygon points="1104,457.35 1095.1,473.05 1112.9,473.05" fill="#000"/>
<polygon points="1124.98,441.15 1116.08,456.85 1133.88,456.85" fill="#000"/>
<polygon points="1145.96,420.25 1137.06,435.95 1154.86,435.95" fill="#000"/>
<polygon points="1166.94,390.05 1158.04,405.75 1175.84,405.75" fill="#000"/>
<polygon points="1187.92,359.95 1179.02,375.65 1196.82,375.65" fill="#000"/>
<polygon points="1208.9,326.05 1200,341.75 1217.8,341.75" fill="#000"/>
<polygon points="1229.88,312.85 1220.98,328.55 1238.78,328.55" fill="#000"/>
<polygon points="1250.86,295.45 1241.96,311.15 1259.76,311.15" fill="#000"/>
<polygon points="1271.84,293.05 1262.94,308.75 1280.74,308.75" fill="#000"/>
<polygon points="1303.31,297.85 1294.41,313.55 1312.21,313.55" fill="#000"/>
<polygon points="1334.78,299.05 1325.88,314.75 1343.68,314.75" fill="#000"/>
<path d="M999.7,497.8 L1003.47,497.26 L1007.24,496.68 L1011.01,496.06 L1014.78,495.39 L1018.55,494.68 L1022.32,493.91 L1026.09,493.1 L1029.86,492.22 L1033.63,491.29 L1037.4,490.29 L1041.17,489.22 L1044.94,488.07 L1048.71,486.84 L1052.48,485.53 L1056.24,484.13 L1060.01,482.63 L1063.78,481.03 L1067.55,479.31 L1071.32,477.48 L1075.09,475.52 L1078.86,473.43 L1082.63,471.19 L1086.4,468.8 L1090.17,466.25 L1093.94,463.53 L1097.71,460.63 L1101.48,457.54 L1105.25,454.24 L1109.02,450.73 L1112.79,447 L1116.56,443.03 L1120.33,438.81 L1124.1,434.34 L1127.87,429.6 L1131.64,424.58 L1135.41,419.28 L1139.18,413.7 L1142.95,407.81 L1146.72,401.64 L1150.49,395.17 L1154.26,388.4 L1158.03,381.36 L1161.8,374.05 L1165.57,366.49 L1169.33,358.69 L1173.1,350.7 L1176.87,342.54 L1180.64,334.25 L1184.41,325.88 L1188.18,317.46 L1191.95,309.06 L1195.72,300.72 L1199.49,292.51 L1203.26,284.46 L1207.03,276.63 L1210.8,269.06 L1214.57,261.8 L1218.34,254.88 L1222.11,248.33 L1225.88,242.16 L1229.65,236.4 L1233.42,231.04 L1237.19,226.09 L1240.96,221.53 L1244.73,217.37 L1248.5,213.57 L1252.27,210.13 L1256.04,207.02 L1259.81,204.23 L1263.58,201.71 L1267.35,199.47 L1271.12,197.46 L1274.89,195.68 L1278.66,194.09 L1282.42,192.69 L1286.19,191.45 L1289.96,190.35 L1293.73,189.38 L1297.5,188.52 L1301.27,187.77 L1305.04,187.11 L1308.81,186.52 L1312.58,186.01 L1316.35,185.56 L1320.12,185.17 L1323.89,184.82 L1327.66,184.52 L1331.43,184.25 L1335.2,184.02" fill="none" stroke="#000" stroke-width="1.2" stroke-linejoin="round"/>
<path d="M999.7,500.62 L1004.53,499.92 L1009.36,499.18 L1014.19,498.4 L1019.02,497.57 L1023.85,496.7 L1028.68,495.78 L1033.5,494.82 L1038.33,493.79 L1043.16,492.72 L1047.99,491.58 L1052.82,490.38 L1057.65,489.12 L1062.48,487.78 L1067.31,486.38 L1072.14,484.89 L1076.97,483.33 L1081.8,481.68 L1086.63,479.94 L1091.46,478.11 L1096.28,476.17 L1101.11,474.13 L1105.94,471.98 L1110.77,469.72 L1115.6,467.33 L1120.43,464.82 L1125.26,462.17 L1130.09,459.38 L1134.92,456.44 L1139.75,453.34 L1144.58,450.08 L1149.41,446.65 L1154.23,443.04 L1159.06,439.25 L1163.89,435.26 L1168.72,431.06 L1173.55,426.66 L1178.38,422.03 L1183.21,417.18 L1188.04,412.09 L1192.87,406.76 L1197.7,401.17 L1202.53,395.34 L1207.36,389.24 L1212.19,382.87 L1217.01,376.23 L1221.84,369.32 L1226.67,362.14 L1231.5,354.69 L1236.33,346.98 L1241.16,339.01 L1245.99,330.79 L1250.82,322.33 L1255.65,313.66 L1260.48,304.78 L1265.31,295.74 L1270.14,286.54 L1274.97,277.24 L1279.79,267.84 L1284.62,258.41 L1289.45,248.97 L1294.28,239.57 L1299.11,230.25 L1303.94,221.06 L1308.77,212.04 L1313.6,203.22 L1318.43,194.65 L1323.26,186.36 L1328.09,178.39 L1332.92,170.76 L1337.74,163.5 L1342.57,156.61 L1347.4,150.12 L1352.23,144.01 L1357.06,138.31 L1361.89,133 L1366.72,128.08 L1371.55,123.53 L1376.38,119.34 L1381.21,115.5 L1386.04,111.98 L1390.87,108.78 L1395.7,105.86 L1400.52,103.21 L1405.35,100.81 L1410.18,98.64 L1415.01,96.68 L1419.84,94.92 L1424.67,93.33 L1429.5,91.91" fill="none" stroke="#000" stroke-width="1.2" stroke-linejoin="round"/>
<path d="M999.7,499.76 L1005.94,499.32 L1012.19,498.85 L1018.43,498.36 L1024.68,497.85 L1030.92,497.31 L1037.17,496.74 L1043.41,496.14 L1049.66,495.51 L1055.9,494.86 L1062.15,494.16 L1068.39,493.44 L1074.64,492.67 L1080.88,491.87 L1087.13,491.03 L1093.37,490.14 L1099.62,489.21 L1105.86,488.23 L1112.11,487.21 L1118.35,486.13 L1124.6,485 L1130.84,483.81 L1137.09,482.56 L1143.33,481.25 L1149.58,479.88 L1155.82,478.44 L1162.07,476.92 L1168.31,475.33 L1174.56,473.67 L1180.8,471.92 L1187.05,470.09 L1193.29,468.17 L1199.54,466.16 L1205.78,464.05 L1212.03,461.85 L1218.27,459.54 L1224.52,457.13 L1230.76,454.6 L1237.01,451.96 L1243.25,449.21 L1249.5,446.33 L1255.74,443.34 L1261.99,440.21 L1268.23,436.97 L1274.48,433.59 L1280.72,430.08 L1286.97,426.45 L1293.21,422.69 L1299.46,418.8 L1305.7,414.78 L1311.95,410.65 L1318.19,406.41 L1324.44,402.05 L1330.68,397.6 L1336.93,393.06 L1343.17,388.44 L1349.42,383.76 L1355.66,379.03 L1361.91,374.27 L1368.15,369.49 L1374.4,364.71 L1380.64,359.96 L1386.89,355.25 L1393.13,350.6 L1399.38,346.03 L1405.62,341.56 L1411.87,337.21 L1418.11,332.99 L1424.36,328.93 L1430.6,325.03 L1436.85,321.3 L1443.09,317.75 L1449.34,314.39 L1455.58,311.22 L1461.83,308.24 L1468.07,305.46 L1474.32,302.86 L1480.56,300.45 L1486.81,298.22 L1493.05,296.16 L1499.3,294.27 L1505.54,292.53 L1511.79,290.94 L1518.03,289.48 L1524.28,288.16 L1530.52,286.95 L1536.77,285.86 L1543.01,284.87 L1549.26,283.98 L1555.5,283.17" fill="none" stroke="#000" stroke-width="1.2" stroke-linejoin="round"/>
<path d="M999.7,497.97 L1003.47,497.56 L1007.24,497.11 L1011.01,496.64 L1014.78,496.14 L1018.55,495.6 L1022.32,495.03 L1026.09,494.43 L1029.86,493.78 L1033.63,493.09 L1037.4,492.35 L1041.17,491.57 L1044.94,490.74 L1048.71,489.85 L1052.48,488.9 L1056.24,487.89 L1060.01,486.82 L1063.78,485.67 L1067.55,484.45 L1071.32,483.16 L1075.09,481.77 L1078.86,480.3 L1082.63,478.73 L1086.4,477.06 L1090.17,475.28 L1093.94,473.38 L1097.71,471.36 L1101.48,469.21 L1105.25,466.92 L1109.02,464.49 L1112.79,461.9 L1116.56,459.14 L1120.33,456.21 L1124.1,453.1 L1127.87,449.8 L1131.64,446.29 L1135.41,442.57 L1139.18,438.63 L1142.95,434.46 L1146.72,430.05 L1150.49,425.41 L1154.26,420.54 L1158.03,415.42 L1161.8,410.07 L1165.57,404.51 L1169.33,398.75 L1173.1,392.82 L1176.87,386.76 L1180.64,380.61 L1184.41,374.42 L1188.18,368.26 L1191.95,362.2 L1195.72,356.3 L1199.49,350.64 L1203.26,345.28 L1207.03,340.27 L1210.8,335.67 L1214.57,331.49 L1218.34,327.75 L1222.11,324.44 L1225.88,321.54 L1229.65,319.04 L1233.42,316.9 L1237.19,315.09 L1240.96,313.55 L1244.73,312.27 L1248.5,311.2 L1252.27,310.32 L1256.04,309.59 L1259.81,308.98 L1263.58,308.49 L1267.35,308.08 L1271.12,307.75 L1274.89,307.48 L1278.66,307.26 L1282.42,307.08 L1286.19,306.94 L1289.96,306.82 L1293.73,306.72 L1297.5,306.64 L1301.27,306.58 L1305.04,306.52 L1308.81,306.48 L1312.58,306.45 L1316.35,306.42 L1320.12,306.4 L1323.89,306.38 L1327.66,306.36 L1331.43,306.35 L1335.2,306.34" fill="none" stroke="#000" stroke-width="1.2" stroke-linejoin="round"/>
<circle cx="1030.4" cy="68" r="8.9" fill="#000"/>
<rect x="1023.48" y="85.58" width="14.85" height="14.85" fill="#fff" stroke="#000" stroke-width="1.35"/>
<polygon points="1031,107 1041.6,117.6 1031,128.2 1020.4,117.6" fill="#000"/>
<polygon points="1031,108.91 1039.69,117.6 1031,126.29 1022.31,117.6" fill="#fff"/>
<polygon points="1031,132.05 1021.5,147.15 1040.5,147.15" fill="#000"/>
<text transform="translate(1060.6 72.4) scale(0.93 1)" font-size="20.6" stroke="#fff" stroke-width="0.4">Glucose</text>
<text transform="translate(1060.6 95.4) scale(0.95 1)" font-size="20.6" stroke="#fff" stroke-width="0.4">Glycerol</text>
<text transform="translate(1060.8 120.6) scale(0.96 1)" font-size="20.6" stroke="#fff" stroke-width="0.4">Acetate</text>
<text transform="translate(1060.6 146.1) scale(0.94 1)" font-size="20.6" stroke="#fff" stroke-width="0.4">Succinate</text>
<text transform="translate(893 398.6) rotate(-90) scale(0.92 1)" font-size="31.4" font-weight="bold" word-spacing="7.72">Cell Growth(OD<tspan font-size="21" dy="6">600</tspan><tspan dy="-6">)</tspan></text>
<text transform="translate(892.8 1036.3) rotate(-90) scale(0.92 1)" font-size="31.4" font-weight="bold" word-spacing="3.48">Fluorescence intensity (×10<tspan font-size="21" dy="-11">3</tspan><tspan dy="11">, a.u.)</tspan></text>
<text transform="translate(1311.3 1105) scale(0.92 1)" font-size="31.4" text-anchor="middle" font-weight="bold" word-spacing="7.61">Time (hr)</text>
<line x1="997.2" y1="566" x2="997.2" y2="1020.4" stroke="#000" stroke-width="1.35"/>
<line x1="1629.5" y1="566" x2="1629.5" y2="1027.6" stroke="#000" stroke-width="1.35"/>
<line x1="990" y1="566" x2="1629.5" y2="566" stroke="#000" stroke-width="1.35"/>
<line x1="997.2" y1="1020.4" x2="1629.5" y2="1020.4" stroke="#000" stroke-width="1.35"/>
<line x1="997.2" y1="1020.4" x2="996.9" y2="1027.6" stroke="#000" stroke-width="1.35"/>
<line x1="1102.6" y1="1020.4" x2="1102.6" y2="1027.6" stroke="#000" stroke-width="1.35"/>
<line x1="1208" y1="1020.4" x2="1208" y2="1027.6" stroke="#000" stroke-width="1.35"/>
<line x1="1313.4" y1="1020.4" x2="1313.4" y2="1027.6" stroke="#000" stroke-width="1.35"/>
<line x1="1418.8" y1="1020.4" x2="1418.8" y2="1027.6" stroke="#000" stroke-width="1.35"/>
<line x1="1524.2" y1="1020.4" x2="1524.2" y2="1027.6" stroke="#000" stroke-width="1.35"/>
<line x1="990" y1="1020.4" x2="997.2" y2="1020.4" stroke="#000" stroke-width="1.35"/>
<line x1="990" y1="929.52" x2="997.2" y2="929.52" stroke="#000" stroke-width="1.35"/>
<line x1="990" y1="838.64" x2="997.2" y2="838.64" stroke="#000" stroke-width="1.35"/>
<line x1="990" y1="747.76" x2="997.2" y2="747.76" stroke="#000" stroke-width="1.35"/>
<line x1="990" y1="656.88" x2="997.2" y2="656.88" stroke="#000" stroke-width="1.35"/>
<text transform="translate(976.86 1028.26) scale(0.975 1)" font-size="30.7" text-anchor="end" stroke="#fff" stroke-width="0.4">0</text>
<text transform="translate(972.96 936.66) scale(0.975 1)" font-size="30.7" text-anchor="end" stroke="#fff" stroke-width="0.4">200</text>
<text transform="translate(972.86 846.06) scale(0.975 1)" font-size="30.7" text-anchor="end" stroke="#fff" stroke-width="0.4">400</text>
<text transform="translate(972.86 755.56) scale(0.975 1)" font-size="30.7" text-anchor="end" stroke="#fff" stroke-width="0.4">600</text>
<text transform="translate(972.76 664.06) scale(0.975 1)" font-size="30.7" text-anchor="end" stroke="#fff" stroke-width="0.4">800</text>
<text transform="translate(970.86 573.56) scale(0.975 1)" font-size="30.7" text-anchor="end" stroke="#fff" stroke-width="0.4">1000</text>
<text transform="translate(996.7 1064) scale(0.96 1)" font-size="30.7" text-anchor="middle" stroke="#fff" stroke-width="0.4">0</text>
<text transform="translate(1102.9 1064) scale(0.96 1)" font-size="30.7" text-anchor="middle" stroke="#fff" stroke-width="0.4">10</text>
<text transform="translate(1208.3 1064) scale(0.96 1)" font-size="30.7" text-anchor="middle" stroke="#fff" stroke-width="0.4">20</text>
<text transform="translate(1313.7 1064) scale(0.96 1)" font-size="30.7" text-anchor="middle" stroke="#fff" stroke-width="0.4">30</text>
<text transform="translate(1419.1 1064) scale(0.96 1)" font-size="30.7" text-anchor="middle" stroke="#fff" stroke-width="0.4">40</text>
<text transform="translate(1524.5 1064) scale(0.96 1)" font-size="30.7" text-anchor="middle" stroke="#fff" stroke-width="0.4">50</text>
<text transform="translate(1628.7 1064) scale(0.96 1)" font-size="30.7" text-anchor="middle" stroke="#fff" stroke-width="0.4">60</text>
<circle cx="1060.48" cy="1014.1" r="8.75" fill="#000"/>
<circle cx="1081.54" cy="1012.9" r="8.75" fill="#000"/>
<circle cx="1102.6" cy="1007" r="8.75" fill="#000"/>
<circle cx="1123.66" cy="999.4" r="8.75" fill="#000"/>
<circle cx="1144.72" cy="991.4" r="8.75" fill="#000"/>
<circle cx="1165.78" cy="988" r="8.75" fill="#000"/>
<circle cx="1186.84" cy="985.4" r="8.75" fill="#000"/>
<circle cx="1207.9" cy="988.4" r="8.75" fill="#000"/>
<circle cx="1228.96" cy="987.4" r="8.75" fill="#000"/>
<circle cx="1250.02" cy="989.4" r="8.75" fill="#000"/>
<circle cx="1271.08" cy="989.4" r="8.75" fill="#000"/>
<circle cx="1302.67" cy="989.4" r="8.75" fill="#000"/>
<circle cx="1334.26" cy="988.4" r="8.75" fill="#000"/>
<rect x="1053.65" y="999.17" width="13.65" height="13.65" fill="#fff" stroke="#000" stroke-width="1.35"/>
<rect x="1074.71" y="997.97" width="13.65" height="13.65" fill="#fff" stroke="#000" stroke-width="1.35"/>
<rect x="1095.77" y="991.97" width="13.65" height="13.65" fill="#fff" stroke="#000" stroke-width="1.35"/>
<rect x="1116.83" y="984.57" width="13.65" height="13.65" fill="#fff" stroke="#000" stroke-width="1.35"/>
<rect x="1137.89" y="975.57" width="13.65" height="13.65" fill="#fff" stroke="#000" stroke-width="1.35"/>
<rect x="1158.95" y="965.47" width="13.65" height="13.65" fill="#fff" stroke="#000" stroke-width="1.35"/>
<rect x="1180.01" y="957.07" width="13.65" height="13.65" fill="#fff" stroke="#000" stroke-width="1.35"/>
<rect x="1201.07" y="944.47" width="13.65" height="13.65" fill="#fff" stroke="#000" stroke-width="1.35"/>
<rect x="1222.13" y="930.97" width="13.65" height="13.65" fill="#fff" stroke="#000" stroke-width="1.35"/>
<rect x="1243.19" y="919.97" width="13.65" height="13.65" fill="#fff" stroke="#000" stroke-width="1.35"/>
<rect x="1264.25" y="913.38" width="13.65" height="13.65" fill="#fff" stroke="#000" stroke-width="1.35"/>
<rect x="1295.85" y="906.38" width="13.65" height="13.65" fill="#fff" stroke="#000" stroke-width="1.35"/>
<rect x="1327.43" y="906.38" width="13.65" height="13.65" fill="#fff" stroke="#000" stroke-width="1.35"/>
<rect x="1359.02" y="916.07" width="13.65" height="13.65" fill="#fff" stroke="#000" stroke-width="1.35"/>
<rect x="1390.62" y="921.77" width="13.65" height="13.65" fill="#fff" stroke="#000" stroke-width="1.35"/>
<rect x="1422.2" y="923.27" width="13.65" height="13.65" fill="#fff" stroke="#000" stroke-width="1.35"/>
<polygon points="1060.48,974 1070.88,984.4 1060.48,994.8 1050.08,984.4" fill="#000"/>
<polygon points="1060.48,975.91 1068.97,984.4 1060.48,992.89 1051.99,984.4" fill="#fff"/>
<polygon points="1081.54,971 1091.94,981.4 1081.54,991.8 1071.14,981.4" fill="#000"/>
<polygon points="1081.54,972.91 1090.03,981.4 1081.54,989.89 1073.05,981.4" fill="#fff"/>
<polygon points="1102.6,962.9 1113,973.3 1102.6,983.7 1092.2,973.3" fill="#000"/>
<polygon points="1102.6,964.81 1111.09,973.3 1102.6,981.79 1094.11,973.3" fill="#fff"/>
<polygon points="1123.66,955.9 1134.06,966.3 1123.66,976.7 1113.26,966.3" fill="#000"/>
<polygon points="1123.66,957.81 1132.15,966.3 1123.66,974.79 1115.17,966.3" fill="#fff"/>
<polygon points="1144.72,952.9 1155.12,963.3 1144.72,973.7 1134.32,963.3" fill="#000"/>
<polygon points="1144.72,954.81 1153.21,963.3 1144.72,971.79 1136.23,963.3" fill="#fff"/>
<polygon points="1165.78,949.9 1176.18,960.3 1165.78,970.7 1155.38,960.3" fill="#000"/>
<polygon points="1165.78,951.81 1174.27,960.3 1165.78,968.79 1157.29,960.3" fill="#fff"/>
<polygon points="1186.84,946.9 1197.24,957.3 1186.84,967.7 1176.44,957.3" fill="#000"/>
<polygon points="1186.84,948.81 1195.33,957.3 1186.84,965.79 1178.35,957.3" fill="#fff"/>
<polygon points="1207.9,940.9 1218.3,951.3 1207.9,961.7 1197.5,951.3" fill="#000"/>
<polygon points="1207.9,942.81 1216.39,951.3 1207.9,959.79 1199.41,951.3" fill="#fff"/>
<polygon points="1228.96,922.8 1239.36,933.2 1228.96,943.6 1218.56,933.2" fill="#000"/>
<polygon points="1228.96,924.71 1237.45,933.2 1228.96,941.69 1220.47,933.2" fill="#fff"/>
<polygon points="1250.02,907.8 1260.42,918.2 1250.02,928.6 1239.62,918.2" fill="#000"/>
<polygon points="1250.02,909.71 1258.51,918.2 1250.02,926.69 1241.53,918.2" fill="#fff"/>
<polygon points="1271.08,901.8 1281.48,912.2 1271.08,922.6 1260.68,912.2" fill="#000"/>
<polygon points="1271.08,903.71 1279.57,912.2 1271.08,920.69 1262.59,912.2" fill="#fff"/>
<polygon points="1302.67,853.2 1313.07,863.6 1302.67,874 1292.27,863.6" fill="#000"/>
<polygon points="1302.67,855.11 1311.16,863.6 1302.67,872.09 1294.18,863.6" fill="#fff"/>
<polygon points="1334.26,796.5 1344.66,806.9 1334.26,817.3 1323.86,806.9" fill="#000"/>
<polygon points="1334.26,798.41 1342.75,806.9 1334.26,815.39 1325.77,806.9" fill="#fff"/>
<polygon points="1365.85,771.6 1376.25,782 1365.85,792.4 1355.45,782" fill="#000"/>
<polygon points="1365.85,773.51 1374.34,782 1365.85,790.49 1357.36,782" fill="#fff"/>
<polygon points="1397.44,743.3 1407.84,753.7 1397.44,764.1 1387.04,753.7" fill="#000"/>
<polygon points="1397.44,745.21 1405.93,753.7 1397.44,762.19 1388.95,753.7" fill="#fff"/>
<polygon points="1429.03,698.8 1439.43,709.2 1429.03,719.6 1418.63,709.2" fill="#000"/>
<polygon points="1429.03,700.71 1437.52,709.2 1429.03,717.69 1420.54,709.2" fill="#fff"/>
<polygon points="1460.62,688.2 1471.02,698.6 1460.62,709 1450.22,698.6" fill="#000"/>
<polygon points="1460.62,690.11 1469.11,698.6 1460.62,707.09 1452.13,698.6" fill="#fff"/>
<polygon points="1492.21,673.7 1502.61,684.1 1492.21,694.5 1481.81,684.1" fill="#000"/>
<polygon points="1492.21,675.61 1500.7,684.1 1492.21,692.59 1483.72,684.1" fill="#fff"/>
<polygon points="1555.39,663.1 1565.79,673.5 1555.39,683.9 1544.99,673.5" fill="#000"/>
<polygon points="1555.39,665.01 1563.88,673.5 1555.39,681.99 1546.9,673.5" fill="#fff"/>
<polygon points="1060.48,1001.2 1052.08,1016.8 1068.88,1016.8" fill="#000"/>
<polygon points="1081.54,1002.2 1073.14,1017.8 1089.94,1017.8" fill="#000"/>
<polygon points="1102.6,999 1094.2,1014.6 1111,1014.6" fill="#000"/>
<polygon points="1123.66,989.8 1115.26,1005.4 1132.06,1005.4" fill="#000"/>
<polygon points="1144.72,980.2 1136.32,995.8 1153.12,995.8" fill="#000"/>
<polygon points="1165.78,967 1157.38,982.6 1174.18,982.6" fill="#000"/>
<polygon points="1186.84,950 1178.44,965.6 1195.24,965.6" fill="#000"/>
<polygon points="1207.9,931 1199.5,946.6 1216.3,946.6" fill="#000"/>
<polygon points="1228.96,919.5 1220.56,935.1 1237.36,935.1" fill="#000"/>
<polygon points="1250.02,914.3 1241.62,929.9 1258.42,929.9" fill="#000"/>
<polygon points="1271.08,912.1 1262.68,927.7 1279.48,927.7" fill="#000"/>
<polygon points="1302.67,903.5 1294.27,919.1 1311.07,919.1" fill="#000"/>
<polygon points="1334.26,893 1325.86,908.6 1342.66,908.6" fill="#000"/>
<path d="M1029.2,1018.12 L1032.62,1017.79 L1036.05,1017.44 L1039.47,1017.08 L1042.9,1016.69 L1046.32,1016.29 L1049.75,1015.86 L1053.17,1015.41 L1056.6,1014.94 L1060.02,1014.44 L1063.45,1013.92 L1066.87,1013.37 L1070.3,1012.79 L1073.72,1012.18 L1077.15,1011.54 L1080.57,1010.87 L1084,1010.16 L1087.42,1009.42 L1090.84,1008.64 L1094.27,1007.82 L1097.69,1006.96 L1101.12,1006.06 L1104.54,1005.12 L1107.97,1004.13 L1111.39,1003.1 L1114.82,1002.04 L1118.24,1000.94 L1121.67,999.81 L1125.09,998.66 L1128.52,997.51 L1131.94,996.36 L1135.37,995.24 L1138.79,994.17 L1142.22,993.17 L1145.64,992.27 L1149.07,991.47 L1152.49,990.78 L1155.91,990.21 L1159.34,989.75 L1162.76,989.38 L1166.19,989.09 L1169.61,988.87 L1173.04,988.71 L1176.46,988.58 L1179.89,988.49 L1183.31,988.42 L1186.74,988.37 L1190.16,988.33 L1193.59,988.3 L1197.01,988.28 L1200.44,988.27 L1203.86,988.26 L1207.29,988.25 L1210.71,988.24 L1214.13,988.24 L1217.56,988.24 L1220.98,988.24 L1224.41,988.23 L1227.83,988.23 L1231.26,988.23 L1234.68,988.23 L1238.11,988.23 L1241.53,988.23 L1244.96,988.23 L1248.38,988.23 L1251.81,988.23 L1255.23,988.23 L1258.66,988.23 L1262.08,988.23 L1265.51,988.23 L1268.93,988.23 L1272.36,988.23 L1275.78,988.23 L1279.2,988.23 L1282.63,988.23 L1286.05,988.23 L1289.48,988.23 L1292.9,988.23 L1296.33,988.23 L1299.75,988.23 L1303.18,988.23 L1306.6,988.23 L1310.03,988.23 L1313.45,988.23 L1316.88,988.23 L1320.3,988.23 L1323.73,988.23 L1327.15,988.23 L1330.58,988.23 L1334,988.23" fill="none" stroke="#000" stroke-width="1.1" stroke-linejoin="round"/>
<path d="M1029.2,1003.26 L1033.68,1003.2 L1038.16,1003.13 L1042.64,1003.05 L1047.12,1002.96 L1051.6,1002.85 L1056.09,1002.72 L1060.57,1002.57 L1065.05,1002.4 L1069.53,1002.21 L1074.01,1001.98 L1078.49,1001.72 L1082.97,1001.41 L1087.45,1001.06 L1091.93,1000.66 L1096.41,1000.19 L1100.89,999.66 L1105.38,999.05 L1109.86,998.35 L1114.34,997.55 L1118.82,996.65 L1123.3,995.63 L1127.78,994.48 L1132.26,993.19 L1136.74,991.75 L1141.22,990.15 L1145.7,988.39 L1150.18,986.46 L1154.67,984.36 L1159.15,982.08 L1163.63,979.65 L1168.11,977.07 L1172.59,974.34 L1177.07,971.51 L1181.55,968.58 L1186.03,965.59 L1190.51,962.56 L1194.99,959.53 L1199.47,956.52 L1203.96,953.57 L1208.44,950.71 L1212.92,947.95 L1217.4,945.32 L1221.88,942.83 L1226.36,940.5 L1230.84,938.32 L1235.32,936.32 L1239.8,934.47 L1244.28,932.79 L1248.76,931.26 L1253.24,929.88 L1257.73,928.64 L1262.21,927.53 L1266.69,926.53 L1271.17,925.65 L1275.65,924.87 L1280.13,924.17 L1284.61,923.56 L1289.09,923.02 L1293.57,922.54 L1298.05,922.13 L1302.53,921.76 L1307.02,921.44 L1311.5,921.16 L1315.98,920.91 L1320.46,920.7 L1324.94,920.51 L1329.42,920.35 L1333.9,920.2 L1338.38,920.08 L1342.86,919.97 L1347.34,919.87 L1351.82,919.79 L1356.31,919.72 L1360.79,919.66 L1365.27,919.6 L1369.75,919.56 L1374.23,919.51 L1378.71,919.48 L1383.19,919.45 L1387.67,919.42 L1392.15,919.4 L1396.63,919.38 L1401.11,919.36 L1405.6,919.34 L1410.08,919.33 L1414.56,919.32 L1419.04,919.31 L1423.52,919.3 L1428,919.29" fill="none" stroke="#000" stroke-width="1.1" stroke-linejoin="round"/>
<path d="M1029.2,979.7 L1035.11,979.5 L1041.02,979.28 L1046.92,979.03 L1052.83,978.76 L1058.74,978.46 L1064.65,978.14 L1070.56,977.78 L1076.46,977.38 L1082.37,976.95 L1088.28,976.47 L1094.19,975.94 L1100.09,975.37 L1106,974.74 L1111.91,974.04 L1117.82,973.28 L1123.73,972.44 L1129.63,971.53 L1135.54,970.52 L1141.45,969.42 L1147.36,968.22 L1153.27,966.9 L1159.17,965.46 L1165.08,963.89 L1170.99,962.17 L1176.9,960.29 L1182.8,958.25 L1188.71,956.03 L1194.62,953.62 L1200.53,951 L1206.44,948.15 L1212.34,945.08 L1218.25,941.76 L1224.16,938.18 L1230.07,934.33 L1235.98,930.2 L1241.88,925.77 L1247.79,921.04 L1253.7,916.01 L1259.61,910.66 L1265.51,905.01 L1271.42,899.04 L1277.33,892.78 L1283.24,886.22 L1289.15,879.38 L1295.05,872.29 L1300.96,864.96 L1306.87,857.42 L1312.78,849.71 L1318.69,841.85 L1324.59,833.9 L1330.5,825.88 L1336.41,817.85 L1342.32,809.83 L1348.22,801.88 L1354.13,794.04 L1360.04,786.35 L1365.95,778.83 L1371.86,771.53 L1377.76,764.48 L1383.67,757.69 L1389.58,751.19 L1395.49,744.99 L1401.4,739.11 L1407.3,733.54 L1413.21,728.31 L1419.12,723.39 L1425.03,718.79 L1430.93,714.51 L1436.84,710.52 L1442.75,706.83 L1448.66,703.41 L1454.57,700.26 L1460.47,697.36 L1466.38,694.7 L1472.29,692.26 L1478.2,690.03 L1484.11,687.99 L1490.01,686.12 L1495.92,684.43 L1501.83,682.88 L1507.74,681.48 L1513.64,680.2 L1519.55,679.04 L1525.46,677.99 L1531.37,677.04 L1537.28,676.18 L1543.18,675.4 L1549.09,674.7 L1555,674.06" fill="none" stroke="#000" stroke-width="1.1" stroke-linejoin="round"/>
<path d="M1029.2,1011.41 L1032.62,1011.36 L1036.05,1011.31 L1039.47,1011.25 L1042.9,1011.18 L1046.32,1011.1 L1049.75,1011.01 L1053.17,1010.91 L1056.6,1010.79 L1060.02,1010.65 L1063.45,1010.49 L1066.87,1010.31 L1070.3,1010.11 L1073.72,1009.87 L1077.15,1009.61 L1080.57,1009.31 L1084,1008.97 L1087.42,1008.58 L1090.84,1008.15 L1094.27,1007.66 L1097.69,1007.11 L1101.12,1006.5 L1104.54,1005.81 L1107.97,1005.05 L1111.39,1004.2 L1114.82,1003.26 L1118.24,1002.23 L1121.67,1001.1 L1125.09,999.86 L1128.52,998.5 L1131.94,997.04 L1135.37,995.45 L1138.79,993.75 L1142.22,991.93 L1145.64,989.99 L1149.07,987.94 L1152.49,985.77 L1155.91,983.5 L1159.34,981.14 L1162.76,978.69 L1166.19,976.16 L1169.61,973.57 L1173.04,970.92 L1176.46,968.24 L1179.89,965.53 L1183.31,962.82 L1186.74,960.1 L1190.16,957.41 L1193.59,954.74 L1197.01,952.12 L1200.44,949.55 L1203.86,947.04 L1207.29,944.61 L1210.71,942.26 L1214.13,940 L1217.56,937.83 L1220.98,935.75 L1224.41,933.77 L1227.83,931.89 L1231.26,930.11 L1234.68,928.43 L1238.11,926.84 L1241.53,925.36 L1244.96,923.96 L1248.38,922.65 L1251.81,921.44 L1255.23,920.3 L1258.66,919.24 L1262.08,918.26 L1265.51,917.35 L1268.93,916.5 L1272.36,915.72 L1275.78,915 L1279.2,914.33 L1282.63,913.72 L1286.05,913.15 L1289.48,912.63 L1292.9,912.15 L1296.33,911.71 L1299.75,911.31 L1303.18,910.93 L1306.6,910.59 L1310.03,910.28 L1313.45,909.99 L1316.88,909.73 L1320.3,909.49 L1323.73,909.27 L1327.15,909.06 L1330.58,908.88 L1334,908.71" fill="none" stroke="#000" stroke-width="1.1" stroke-linejoin="round"/>
</svg>
</body>
</html>
